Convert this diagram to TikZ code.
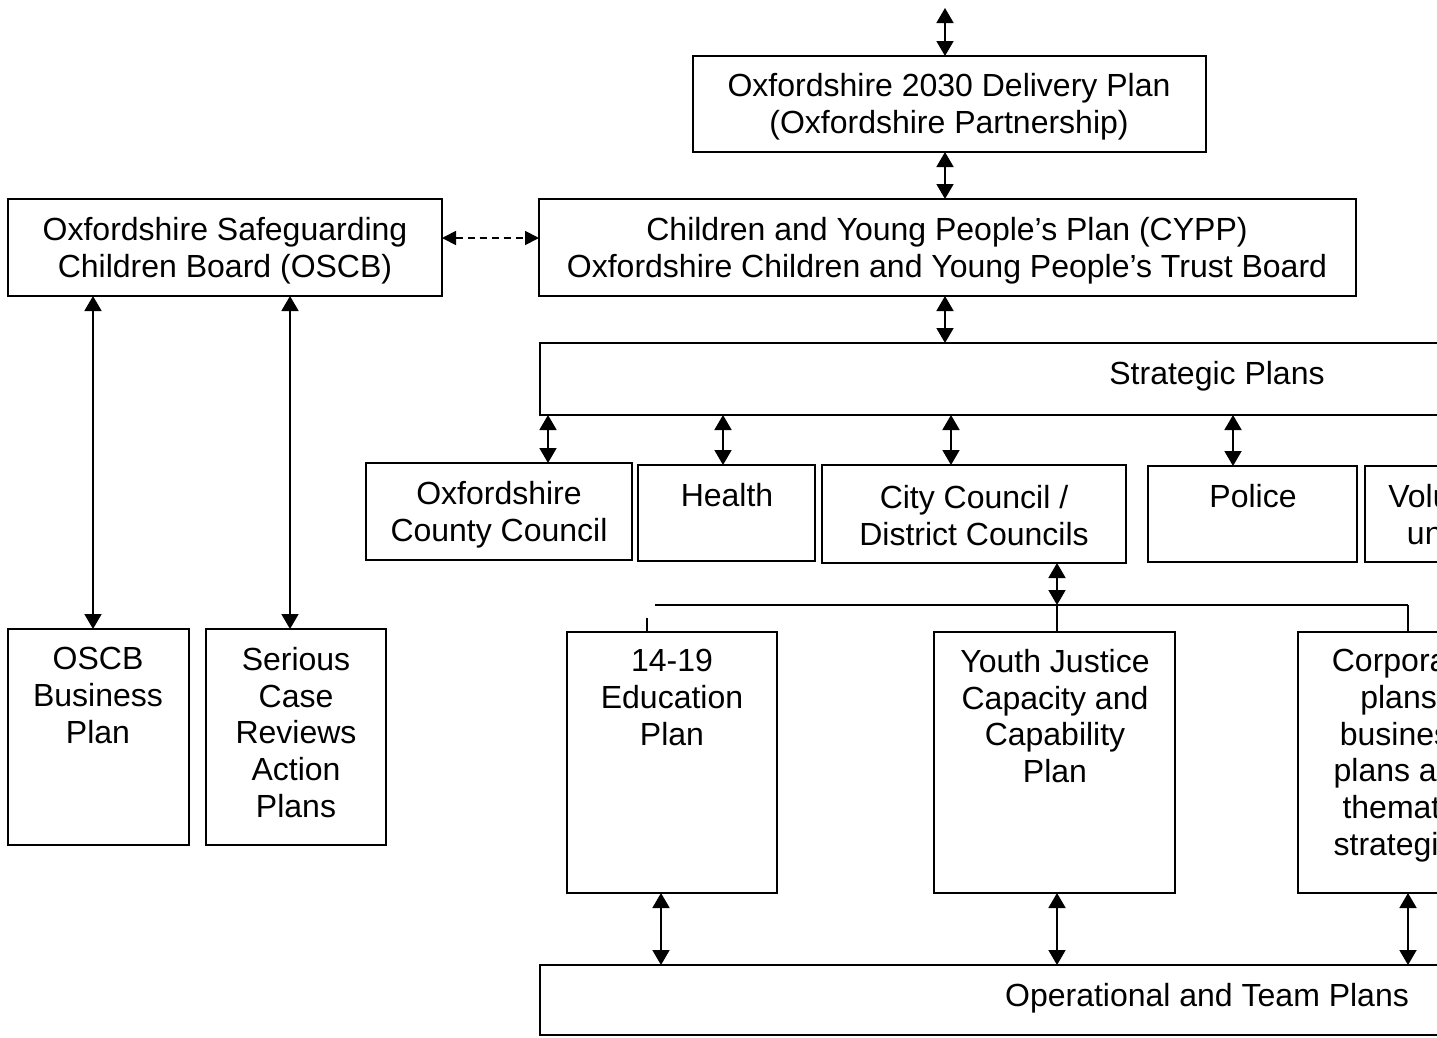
\documentclass[tikz,border=0pt]{standalone}
\usepackage{fontspec}
\setmainfont{Liberation Sans}
\usetikzlibrary{arrows.meta}
\begin{document}
\begin{tikzpicture}[x=1pt,y=-1pt,
  box/.style={draw,line width=1.8pt,rectangle,inner sep=0pt,outer sep=0pt,anchor=north west},
  txt/.style={font=\fontsize{32}{36.75}\selectfont,align=center,inner sep=0pt,anchor=north},
  dbl/.style={line width=1.8pt,{Triangle[length=15pt,width=17pt]}-{Triangle[length=15pt,width=17pt]}},
  dsh/.style={line width=1.8pt,dash pattern=on 7pt off 5pt,{Triangle[length=14pt,width=14pt]}-{Triangle[length=14pt,width=14pt]}},
  ln/.style={line width=1.8pt}]
\useasboundingbox (0,0) rectangle (1437,1037);
\clip (0,0) rectangle (1437,1037);
% boxes
\node[box,minimum width=513pt,minimum height=96pt] (deliv) at (693,56) {};
\node[box,minimum width=817pt,minimum height=97pt] (cypp) at (539,199) {};
\node[box,minimum width=434pt,minimum height=97pt] (oscb) at (8,199) {};
\node[box,minimum width=1354pt,minimum height=72pt] (strat) at (540,343) {};
\node[box,minimum width=266pt,minimum height=97pt] (occ) at (366,463) {};
\node[box,minimum width=177pt,minimum height=96pt] (health) at (638,465) {};
\node[box,minimum width=304pt,minimum height=98pt] (city) at (822,465) {};
\node[box,minimum width=209pt,minimum height=96pt] (police) at (1148,466) {};
\node[box,minimum width=176pt,minimum height=96pt] (vol) at (1365,466) {};
\node[box,minimum width=181pt,minimum height=216pt] (biz) at (8,629) {};
\node[box,minimum width=180pt,minimum height=216pt] (scr) at (206,629) {};
\node[box,minimum width=210pt,minimum height=261pt] (edu) at (567,632) {};
\node[box,minimum width=241pt,minimum height=261pt] (yj) at (934,632) {};
\node[box,minimum width=220pt,minimum height=261pt] (corp) at (1298,632) {};
\node[box,minimum width=1334pt,minimum height=70pt] (oper) at (540,965) {};
% texts
\node[txt] (delivt) at (949,73) {Oxfordshire 2030 Delivery Plan\\(Oxfordshire Partnership)};
\node[txt] (cyppt) at (947,217) {Children and Young People’s Plan (CYPP)\\Oxfordshire Children and Young People’s Trust Board};
\node[txt] (oscbt) at (225,217) {Oxfordshire Safeguarding\\Children Board (OSCB)};
\node[txt] (stratt) at (1217,361) {Strategic Plans};
\node[txt] (occt) at (499,481) {Oxfordshire\\County Council};
\node[txt] (healtht) at (727,483) {Health};
\node[txt] (cityt) at (974,485) {City Council /\\District Councils};
\node[txt] (policet) at (1253,484) {Police};
\node[txt] (volt) at (1455,484) {Voluntary\\unpaid};
\node[txt] (bizt) at (98,647) {OSCB\\Business\\Plan};
\node[txt] (scrt) at (296,647) {Serious\\Case\\Reviews\\Action\\Plans};
\node[txt] (edut) at (672,649) {14-19\\Education\\Plan};
\node[txt] (yjt) at (1055,649) {Youth Justice\\Capacity and\\Capability\\Plan};
\node[txt] (corpt) at (1403,649) {Corporate\\plans,\\business\\plans and\\thematic\\strategies};
\node[txt] (opert) at (1207,983) {Operational and Team Plans};
% helper coordinates
\coordinate (top) at (945,8);
\coordinate (cx) at (945,0);
\coordinate (ds) at (0,238);
\coordinate (a1) at (548,0);
\coordinate (a2) at (723,0);
\coordinate (a3) at (951,0);
\coordinate (a4) at (1233,0);
\coordinate (hc) at (1057,605);
\coordinate (hl) at (655,605);
\coordinate (hr) at (1408,605);
\coordinate (tk) at (647,618);
\coordinate (o1) at (93,0);
\coordinate (o2) at (290,0);
\coordinate (b1) at (661,0);
% connectors
\draw[dbl] (top) -- (top |- deliv.north);
\draw[dbl] (cx |- deliv.south) -- (cx |- cypp.north);
\draw[dsh] (oscb.east |- ds) -- (cypp.west |- ds);
\draw[dbl] (cx |- cypp.south) -- (cx |- strat.north);
\draw[dbl] (a1 |- strat.south) -- (a1 |- occ.north);
\draw[dbl] (a2 |- strat.south) -- (a2 |- health.north);
\draw[dbl] (a3 |- strat.south) -- (a3 |- city.north);
\draw[dbl] (a4 |- strat.south) -- (a4 |- police.north);
\draw[dbl] (hc |- city.south) -- (hc);
\draw[ln] (hl) -- (hr);
\draw[ln] (tk) -- (tk |- edu.north);
\draw[ln] (hc) -- (hc |- yj.north);
\draw[ln] (hr) -- (hr |- corp.north);
\draw[dbl] (o1 |- oscb.south) -- (o1 |- biz.north);
\draw[dbl] (o2 |- oscb.south) -- (o2 |- scr.north);
\draw[dbl] (b1 |- edu.south) -- (b1 |- oper.north);
\draw[dbl] (hc |- yj.south) -- (hc |- oper.north);
\draw[dbl] (hr |- corp.south) -- (hr |- oper.north);
\end{tikzpicture}
\end{document}
